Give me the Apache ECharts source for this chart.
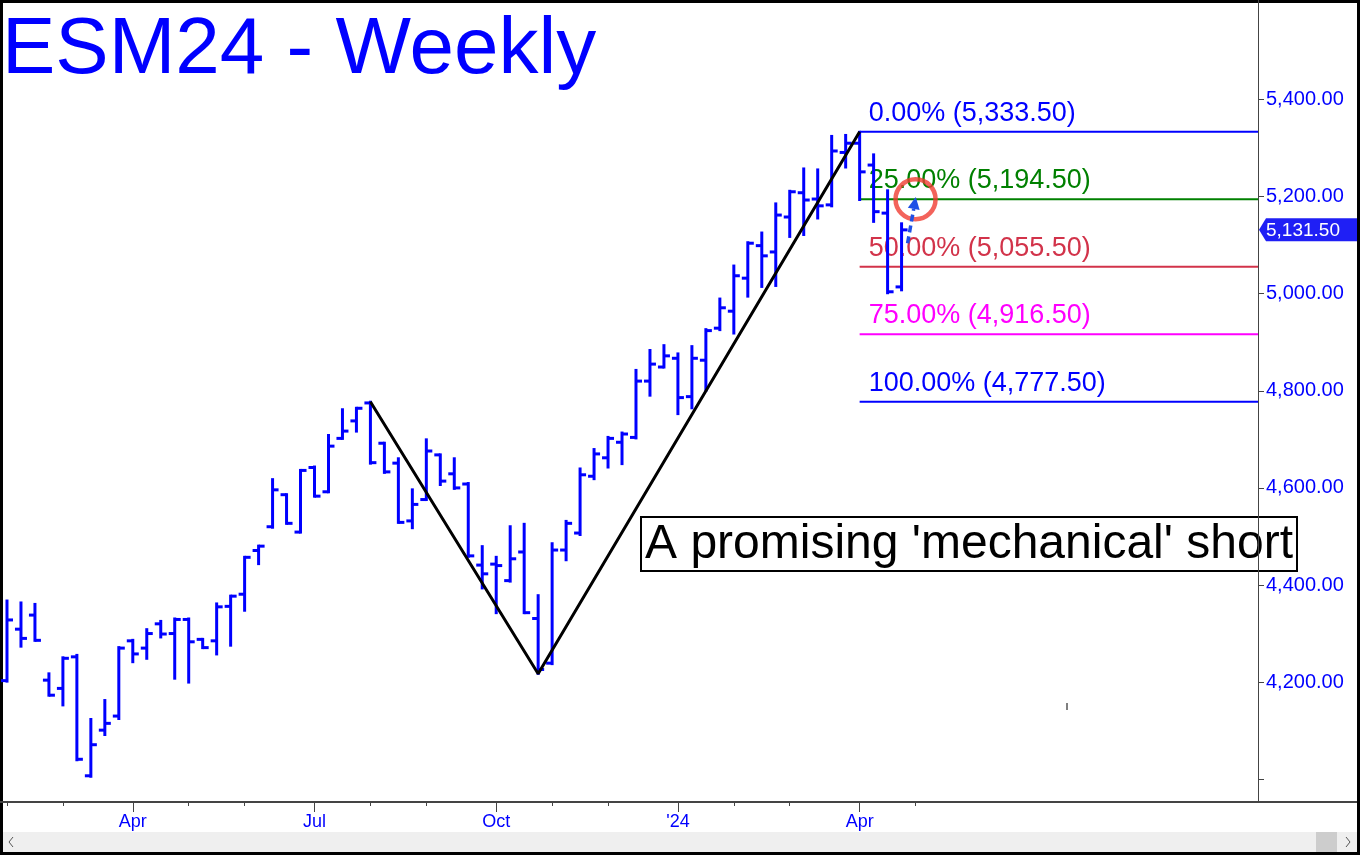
<!DOCTYPE html>
<html>
<head>
<meta charset="utf-8">
<script src="https://cdn.jsdelivr.net/npm/echarts@6.0.0/dist/echarts.min.js"></script>
<style>
html,body{margin:0;padding:0;background:#fff;}
#chart{width:1360px;height:855px;}
</style>
</head>
<body>
<div id="chart"></div>
<script>
// ---------- DATA ----------
const WEEKS = [
 '2023-02-03','2023-02-10','2023-02-17','2023-02-24','2023-03-03','2023-03-10','2023-03-17','2023-03-24','2023-03-31','2023-04-07',
 '2023-04-14','2023-04-21','2023-04-28','2023-05-05','2023-05-12','2023-05-19','2023-05-26','2023-06-02','2023-06-09','2023-06-16',
 '2023-06-23','2023-06-30','2023-07-07','2023-07-14','2023-07-21','2023-07-28','2023-08-04','2023-08-11','2023-08-18','2023-08-25',
 '2023-09-01','2023-09-08','2023-09-15','2023-09-22','2023-09-29','2023-10-06','2023-10-13','2023-10-20','2023-10-27','2023-11-03',
 '2023-11-10','2023-11-17','2023-11-24','2023-12-01','2023-12-08','2023-12-15','2023-12-22','2023-12-29','2024-01-05','2024-01-12',
 '2024-01-19','2024-01-26','2024-02-02','2024-02-09','2024-02-16','2024-02-23','2024-03-01','2024-03-08','2024-03-15','2024-03-22',
 '2024-03-29','2024-04-05','2024-04-12','2024-04-19','2024-04-26','2024-05-03','2024-05-10','2024-05-17','2024-05-24','2024-05-31',
 '2024-06-07','2024-06-14','2024-06-21','2024-06-28','2024-07-05','2024-07-12','2024-07-19','2024-07-26','2024-08-02','2024-08-09',
 '2024-08-16','2024-08-23','2024-08-30','2024-09-06','2024-09-13','2024-09-20','2024-09-27','2024-10-04','2024-10-11','2024-10-18'
];
const OPEN  = [4203,4309,4338,4204,4187,4252,4007,4101,4130,4285,4270,4320,4300,4329,4288,4285,4356,4381,4471,4520,
               4586,4509,4642,4592,4702,4738,4775,4692,4651,4532,4576,4668,4629,4608,4441,4443,4409,4468,4331,4239,
               4472,4507,4624,4662,4694,4704,4820,4849,4867,4788,4863,4929,4964,5032,5099,5086,5158,5208,5195,5183,
               5291,5310,5265,5166,5014];
const HIGH  = [4368,4364,4361,4218,4251,4256,4124,4163,4272,4287,4309,4326,4331,4331,4289,4362,4378,4458,4481,4618,
               4587,4637,4644,4709,4762,4765,4777.5,4693,4661,4597,4700,4669,4661,4610,4480,4458,4521,4526,4379,4486,
               4532,4640,4680,4705,4714,4843,4884,4894,4877,4892,4927,4990,5058,5106,5126,5186,5212,5258,5256,5325,
               5327,5333.5,5287,5213,5145];
const LOW   = [4201,4273,4285,4172,4152,4039,4005,4091,4124,4241,4248,4292,4207,4199,4270,4257,4275,4347,4443,4518,
               4526,4508,4582,4591,4701,4716,4650,4631,4528,4517,4575,4606,4598,4458,4393,4342,4407,4342,4217,4237,
               4451,4503,4618,4642,4649,4702,4790,4848,4752,4764,4800,4925,4918,4994,5014,5016,5117,5121,5155,5180,
               5260,5193,5148,5001,5007];
const CLOSE = [4328,4290,4286,4173,4249,4041,4071,4115,4270,4258,4300,4299,4329,4283,4271,4355,4377,4457,4480,4596,
               4527,4636,4583,4686,4717,4764,4652,4633,4529,4566,4676,4614,4600,4460,4423,4440,4454,4343,4226,4472,
               4527,4627,4670,4702,4711,4820,4855,4872,4786,4867,4924,4971,5037,5104,5078,5162,5210,5193,5181,5294,
               5310,5251,5169,5004,5131.5];

const MONTH_TICKS = ['2023-02-03','2023-03-03','2023-04-07','2023-05-05','2023-06-02','2023-07-07','2023-08-04','2023-09-01',
                     '2023-10-06','2023-11-03','2023-12-01','2024-01-05','2024-02-02','2024-03-01','2024-04-05','2024-05-03'];
const LABEL_WEEKS = ['2023-04-07','2023-07-07','2023-10-06','2024-01-05','2024-04-05'];
const LABEL_TEXTS = ['Apr','Jul','Oct',"'24",'Apr'];

const Y_TICKS  = [4000,4200,4400,4600,4800,5000,5200,5400];
const Y_LABELS = [4200,4400,4600,4800,5000,5200,5400];

const FIB_PCT    = ['0.00%','25.00%','50.00%','75.00%','100.00%'];
const FIB_VALUES = [5333.5,5194.5,5055.5,4916.5,4777.5];
const FIB_COLORS = ['#0000FF','#008000','#D2334A','#FF00FF','#0000FF'];
const FIB_START  = '2024-04-05';

const ZIGZAG_WEEKS  = ['2023-08-04','2023-10-27','2024-04-05'];
const ZIGZAG_VALUES = [4777.5,4217,5333.5];

const TARGET_WEEK  = '2024-05-03';
const TARGET_VALUE = 5194.5;
const ARROW_FROM = [64.43, 5104];
const ARROW_TO   = [65.02, 5199];

const TITLE = 'ESM24 - Weekly';
const NOTE  = "A promising 'mechanical' short";

// ---------- LAYOUT ----------
const W = 1360, H = 855;
const GRID = {left: -2, right: 102, top: 0, bottom: 53};
const Y_MIN = 3953, Y_MAX = 5605;
const BLUE = '#0000FF';
const FONT = '"Liberation Sans", Arial, sans-serif';

function fmt(v) {
  const s = Number(v).toFixed(2);
  const parts = s.split('.');
  parts[0] = parts[0].replace(/\B(?=(\d{3})+(?!\d))/g, ',');
  return parts.join('.');
}

const ohlc = OPEN.map((o, i) => [i, o, HIGH[i], LOW[i], CLOSE[i]]);
const lastIdx = CLOSE.length - 1;

function lerpCoord(api, idx, val) {
  const i0 = Math.floor(idx), f = idx - i0;
  const a = api.coord([i0, val]), b = api.coord([i0 + 1, val]);
  return [a[0] + (b[0] - a[0]) * f, a[1]];
}

const chart = echarts.init(document.getElementById('chart'), null, {renderer: 'canvas'});
const gridRightX = W - GRID.right;
const gridBottomY = H - GRID.bottom;

chart.setOption({
  animation: false,
  backgroundColor: '#fff',
  title: {
    text: TITLE, left: 2, top: 11, padding: 0,
    textStyle: {fontSize: 80, fontFamily: FONT, fontWeight: 'normal', color: BLUE}
  },
  grid: {left: GRID.left, right: GRID.right, top: GRID.top, bottom: GRID.bottom, containLabel: false},
  xAxis: [{
    type: 'category', data: WEEKS, boundaryGap: true, position: 'bottom',
    axisLine: {show: true, lineStyle: {color: '#444', width: 2}},
    axisTick: {show: true, alignWithLabel: true, length: 4, lineStyle: {color: '#444', width: 1},
      interval: (i, v) => MONTH_TICKS.indexOf(v) >= 0},
    axisLabel: {show: true, color: BLUE, fontSize: 18, fontFamily: FONT, margin: 11,
      interval: (i, v) => LABEL_WEEKS.indexOf(v) >= 0,
      formatter: v => { const k = LABEL_WEEKS.indexOf(v); return k >= 0 ? LABEL_TEXTS[k] : ''; }},
    splitLine: {show: false}
  }, {
    type: 'category', data: WEEKS, boundaryGap: true, position: 'bottom', gridIndex: 0,
    axisLine: {show: false},
    axisTick: {show: true, alignWithLabel: true, length: 10, lineStyle: {color: '#444', width: 1},
      interval: (i, v) => LABEL_WEEKS.indexOf(v) >= 0},
    axisLabel: {show: false},
    splitLine: {show: false}
  }],
  yAxis: {
    type: 'value', position: 'right', min: Y_MIN, max: Y_MAX,
    axisLine: {show: true, lineStyle: {color: '#444', width: 1}},
    axisTick: {show: true, length: 6, customValues: Y_TICKS, lineStyle: {color: '#444'}},
    axisLabel: {show: true, customValues: Y_LABELS, color: BLUE, fontSize: 20, fontFamily: FONT, margin: 8,
      formatter: v => (Y_LABELS.indexOf(v) >= 0 ? fmt(v) : '')},
    splitLine: {show: false}
  },
  series: [
    {
      type: 'custom', name: 'fib', z: 1,
      data: FIB_VALUES.map(v => [FIB_START, v]),
      encode: {x: 0, y: 1},
      renderItem: (params, api) => {
        const i = params.dataIndex;
        const p = api.coord([api.value(0), api.value(1)]);
        const right = params.coordSys.x + params.coordSys.width;
        const c = FIB_COLORS[i];
        return {type: 'group', children: [
          {type: 'line', shape: {x1: p[0], y1: p[1], x2: right, y2: p[1]}, style: {stroke: c, lineWidth: 2}},
          {type: 'text', x: p[0] + 9, y: p[1] - 5,
           style: {text: FIB_PCT[i] + ' (' + fmt(FIB_VALUES[i]) + ')', fill: c, font: '27px ' + FONT,
                   align: 'left', verticalAlign: 'bottom'}}
        ]};
      }
    },
    {
      type: 'custom', name: 'ESM24', z: 2,
      data: ohlc,
      dimensions: ['i', 'open', 'high', 'low', 'close'],
      encode: {x: 0, y: [1, 2, 3, 4]},
      renderItem: (params, api) => {
        const i = api.value(0);
        const pO = api.coord([i, api.value(1)]);
        const pH = api.coord([i, api.value(2)]);
        const pL = api.coord([i, api.value(3)]);
        const pC = api.coord([i, api.value(4)]);
        const x = pH[0];
        const st = {stroke: BLUE, lineWidth: 3};
        return {type: 'group', children: [
          {type: 'line', shape: {x1: x, y1: pH[1] - 1, x2: x, y2: pL[1] + 1}, style: st},
          {type: 'line', shape: {x1: x - 6, y1: pO[1], x2: x, y2: pO[1]}, style: st},
          {type: 'line', shape: {x1: x, y1: pC[1], x2: x + 6, y2: pC[1]}, style: st}
        ]};
      }
    },
    {
      type: 'line', name: 'zigzag', z: 3,
      data: ZIGZAG_WEEKS.map((w, i) => [w, ZIGZAG_VALUES[i]]),
      symbol: 'none', lineStyle: {color: '#000', width: 3}
    },
    {
      type: 'scatter', name: 'target', z: 4,
      data: [[TARGET_WEEK, TARGET_VALUE]],
      symbol: 'circle', symbolSize: 40,
      itemStyle: {color: 'rgba(0,0,0,0)', borderColor: '#F03C32', borderWidth: 4.5}
    },
    {
      type: 'custom', name: 'arrow', z: 5,
      data: [[ARROW_FROM[0], ARROW_FROM[1], ARROW_TO[0], ARROW_TO[1]]],
      encode: {y: 1},
      renderItem: (params, api) => {
        const a = lerpCoord(api, ARROW_FROM[0], ARROW_FROM[1]);
        const b = lerpCoord(api, ARROW_TO[0], ARROW_TO[1]);
        const dx = b[0] - a[0], dy = b[1] - a[1];
        const len = Math.sqrt(dx * dx + dy * dy);
        const ux = dx / len, uy = dy / len;
        const hl = 12, hw = 6;
        const base = [b[0] - ux * hl, b[1] - uy * hl];
        return {type: 'group', children: [
          {type: 'line', shape: {x1: a[0], y1: a[1], x2: base[0], y2: base[1]},
           style: {stroke: '#1E50E6', lineWidth: 3.5, lineDash: [7, 4]}},
          {type: 'polygon', shape: {points: [b, [base[0] - uy * hw, base[1] + ux * hw], [base[0] + uy * hw, base[1] - ux * hw]]},
           style: {fill: '#1E50E6'}}
        ]};
      }
    },
    {
      type: 'custom', name: 'lastTag', z: 6, clip: false,
      data: [[lastIdx, CLOSE[lastIdx]]],
      encode: {x: 0, y: 1},
      renderItem: (params, api) => {
        const y = api.coord([api.value(0), api.value(1)])[1];
        const x0 = params.coordSys.x + params.coordSys.width;
        const h = 11.5;
        return {type: 'group', children: [
          {type: 'polygon', shape: {points: [[x0 + 1, y], [x0 + 8, y - h], [x0 + 99, y - h], [x0 + 99, y + h], [x0 + 8, y + h]]},
           style: {fill: '#1F1FF5'}},
          {type: 'text', x: x0 + 8, y: y + 1,
           style: {text: fmt(api.value(1)), fill: '#fff', font: '19px ' + FONT, align: 'left', verticalAlign: 'middle'}}
        ]};
      }
    }
  ],
  graphic: [
    {type: 'line', shape: {x1: gridRightX, y1: gridBottomY, x2: W - 2, y2: gridBottomY}, style: {stroke: '#444', lineWidth: 2}},
    {type: 'rect', shape: {x: 2, y: 832, width: W - 4, height: 20}, style: {fill: '#EFEFEF'}},
    {type: 'rect', shape: {x: 1316, y: 832, width: 21, height: 20}, style: {fill: '#CDCDCD'}},
    {type: 'polyline', shape: {points: [[13, 837], [9, 842], [13, 847]]}, style: {stroke: '#555', lineWidth: 1, fill: null}},
    {type: 'polyline', shape: {points: [[1346, 837], [1350, 842], [1346, 847]]}, style: {stroke: '#555', lineWidth: 1, fill: null}},
    {type: 'rect', shape: {x: 641, y: 517, width: 656, height: 54}, style: {fill: null, stroke: '#000', lineWidth: 2}},
    {type: 'text', x: 969, y: 545, style: {text: NOTE, fill: '#000', font: '48px ' + FONT, align: 'center', verticalAlign: 'middle'}},
    {type: 'line', shape: {x1: 1067, y1: 703, x2: 1067, y2: 710}, style: {stroke: '#000', lineWidth: 1}},
    {type: 'rect', shape: {x: 1.5, y: 1.5, width: W - 3, height: H - 3}, style: {fill: null, stroke: '#000', lineWidth: 3}}
  ]
});
</script>
</body>
</html>
